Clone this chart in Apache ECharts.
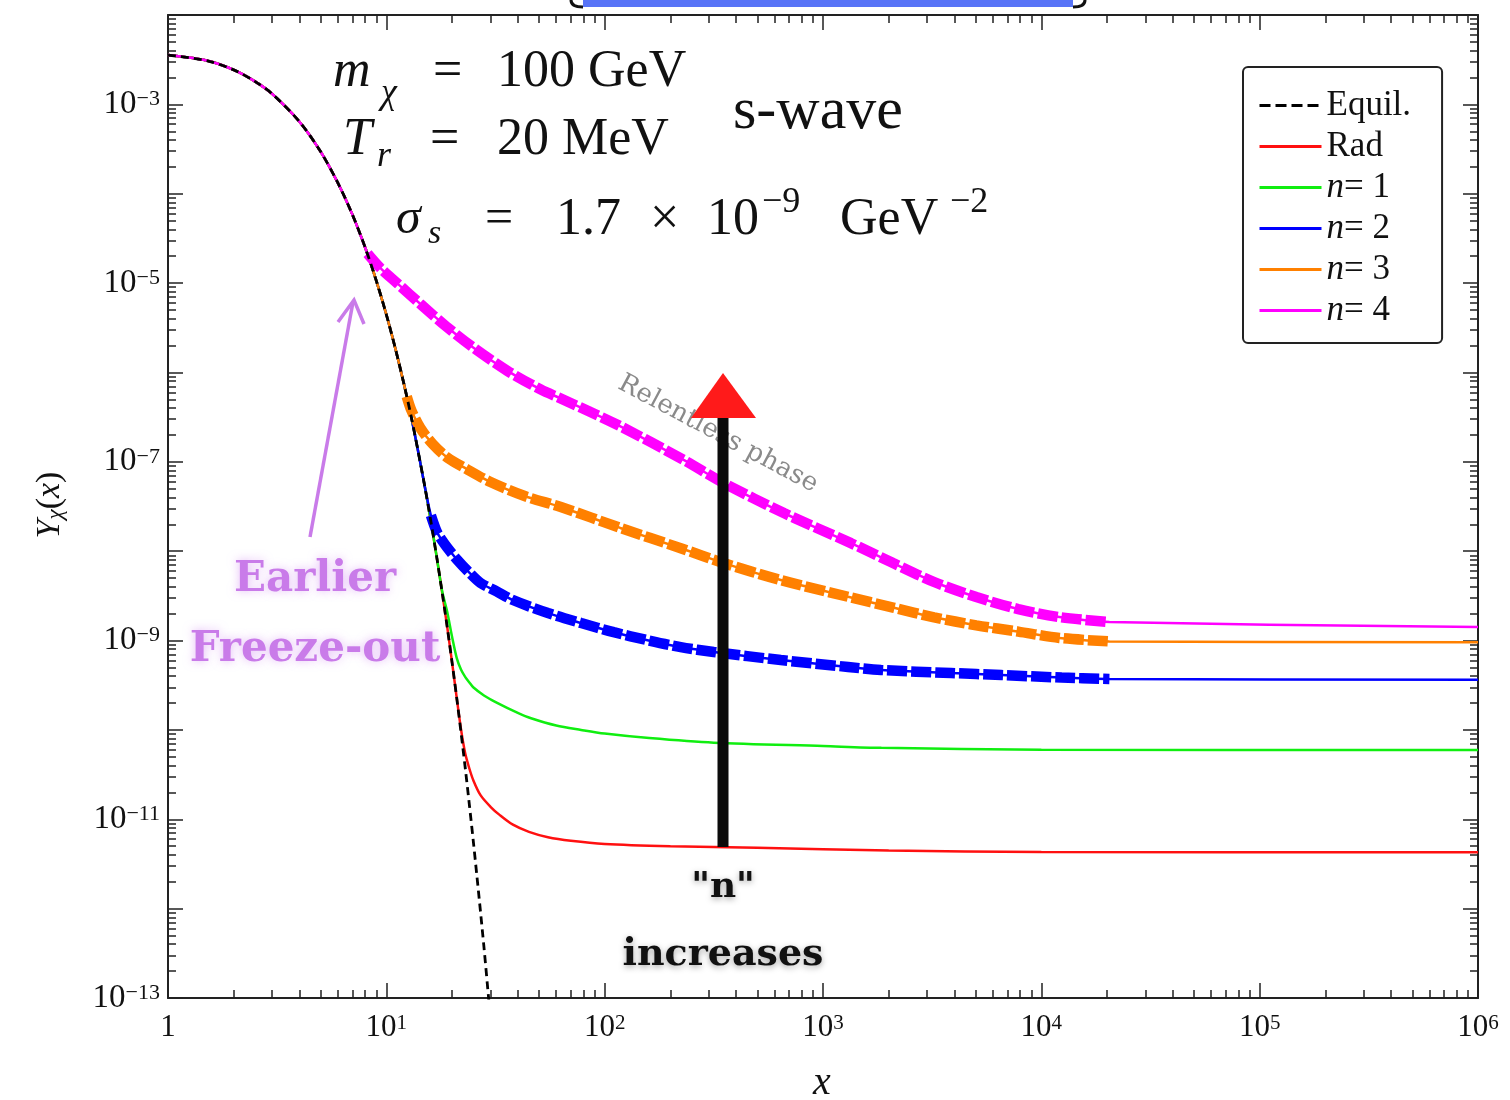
<!DOCTYPE html>
<html><head><meta charset="utf-8">
<script src="https://cdn.jsdelivr.net/npm/echarts@6/dist/echarts.min.js"></script>
<style>html,body{margin:0;padding:0;background:#fff}#c{width:1510px;height:1100px}</style>
</head><body><div id="c"></div>
<script>
// ---------- data ----------
const eqX = [1,1.5,2,2.5,3,4,5,6,7,8,9,10,11,12,13,14,15,16,17,18,19,20,21,22,23,24,25,26,27,28,29,30];
const eqY = [3.56e-3,3.09e-3,2.43e-3,1.81e-3,1.31e-3,6.4e-4,2.96e-4,1.32e-4,5.8e-5,2.5e-5,1.06e-5,4.45e-6,1.85e-6,7.7e-7,3.2e-7,1.29e-7,5.3e-8,2.15e-8,8.7e-9,3.5e-9,1.42e-9,5.7e-10,2.3e-10,9.2e-11,3.7e-11,1.46e-11,5.8e-12,2.3e-12,9.2e-13,3.7e-13,1.45e-13,5.8e-14];

const radX = [22,23,24,25,27,30,33,38,45,55,70,100,200,500,2000,1e4,1e6];
const radY = [1.0e-10,5.4e-11,3.7e-11,2.75e-11,1.86e-11,1.38e-11,1.12e-11,8.7e-12,7.24e-12,6.3e-12,5.75e-12,5.3e-12,5.0e-12,4.8e-12,4.47e-12,4.3e-12,4.27e-12];

const n1X = [18,19,20,21,22,23,24,25,28,32,40,46,60,78,100,160,316,1000,1850,1e4,1e6];
const n1Y = [3.6e-9,2.1e-9,1.1e-9,6.4e-10,4.7e-10,3.9e-10,3.4e-10,3.0e-10,2.43e-10,2.02e-10,1.55e-10,1.35e-10,1.12e-10,1.0e-10,9.1e-11,8.1e-11,7.2e-11,6.6e-11,6.3e-11,6.0e-11,5.96e-11];

const n2X = [16,17,18,19,21,24,27,32,38,55,78,110,157,223,316,641,1303,1845,3866,6555,12400,20500,1e6];
const n2Y = [2.51e-8,1.66e-8,1.32e-8,1.10e-8,8.13e-9,5.75e-9,4.41e-9,3.55e-9,2.84e-9,2.03e-9,1.57e-9,1.24e-9,1.01e-9,8.45e-10,7.45e-10,6.05e-10,5.06e-10,4.68e-10,4.33e-10,4.11e-10,3.85e-10,3.72e-10,3.63e-10];

const n3X = [12.4,13,14.3,16.3,19,23.3,30,43,63,118,223,351,641,1303,2094,3228,5036,7838,12100,20500,1e6];
const n3Y = [5.37e-7,3.8e-7,2.4e-7,1.58e-7,1.12e-7,8.32e-8,5.94e-8,4.14e-8,3.12e-8,1.82e-8,1.08e-8,7.36e-9,4.75e-9,3.09e-9,2.34e-9,1.82e-9,1.48e-9,1.26e-9,1.07e-9,9.77e-10,9.6e-10];

const n4X = [8.2,9.38,11.2,14.5,18.7,24.8,35.9,51.4,62.2,115,230,351,662,1343,2094,3228,5036,7838,12100,20500,1e6];
const n4Y = [2.14e-5,1.48e-5,1.0e-5,5.69e-6,3.31e-6,1.93e-6,1.04e-6,6.37e-7,5.18e-7,2.58e-7,1.05e-7,5.79e-8,2.67e-8,1.23e-8,7.36e-9,4.52e-9,3.07e-9,2.25e-9,1.83e-9,1.61e-9,1.42e-9];

const dashEndX = 20500;   // thick dashed part ends here

const legendNames = ['Equil.','Rad','n= 1','n= 2','n= 3','n= 4'];
const xTickExps = [0,1,2,3,4,5,6];
const yTickExps = [-13,-12,-11,-10,-9,-8,-7,-6,-5,-4,-3,-2];
const yLabelExps = [-13,-11,-9,-7,-5,-3];

// ---------- build tables ----------
const zip = (xs, ys) => xs.map((x, i) => [x, ys[i]]);
const eqPts = zip(eqX, eqY);
const withEq = (xs, ys) => eqPts.filter(p => p[0] < xs[0]).concat(zip(xs, ys));
const dashPart = (xs, ys) => zip(xs, ys).filter(p => p[0] <= dashEndX);

const majorX = xTickExps.map(e => Math.pow(10, e));
const minorX = [];
xTickExps.slice(0, -1).forEach(e => { for (let m = 2; m <= 9; m++) minorX.push(m * Math.pow(10, e)); });
const majorY = yTickExps.map(e => Math.pow(10, e));
const minorY = [];
yTickExps.slice(0, -1).forEach(e => { for (let m = 2; m <= 9; m++) minorY.push(m * Math.pow(10, e)); });
const labelY = yLabelExps.map(e => Math.pow(10, e));

const SERIF = '"Liberation Serif", "DejaVu Serif", serif';
const SLAB = '"DejaVu Serif", serif';
const INK = '#111';

const richX = {
  b: { fontFamily: SERIF, fontSize: 31, color: INK, lineHeight: 30 },
  s: { fontFamily: SERIF, fontSize: 21, color: INK, lineHeight: 16, verticalAlign: 'top' }
};
const richY = {
  b: { fontFamily: SERIF, fontSize: 33, color: INK, lineHeight: 32 },
  s: { fontFamily: SERIF, fontSize: 22, color: INK, lineHeight: 17, verticalAlign: 'top' }
};
const expOf = v => Math.round(Math.log10(v));
const fmtPow = v => {
  const e = expOf(v);
  if (e === 0) return '{b|1}';
  return '{b|10}{s|' + (e < 0 ? '\u2212' + (-e) : e) + '}';
};

const frame = { show: true, onZero: false, lineStyle: { color: '#222', width: 2 } };
const tickStyle = { color: '#222', width: 1.5 };
const base = { type: 'log', logBase: 10, splitLine: { show: false }, minorTick: { show: false }, minorSplitLine: { show: false }, silent: true };

function xAx(pos, ticks, len, line, labels) {
  return Object.assign({}, base, {
    position: pos, min: 1, max: 1e6,
    axisLine: line ? frame : { show: false },
    axisTick: { show: true, inside: true, length: len, customValues: ticks, lineStyle: tickStyle },
    axisLabel: labels ? { show: true, customValues: majorX, formatter: fmtPow, margin: 15, rich: richX } : { show: false }
  });
}
function yAx(pos, ticks, len, line, labels) {
  return Object.assign({}, base, {
    position: pos, min: 1e-13, max: 1e-2,
    axisLine: line ? frame : { show: false },
    axisTick: { show: true, inside: true, length: len, customValues: ticks, lineStyle: tickStyle },
    axisLabel: labels ? { show: true, customValues: labelY, formatter: fmtPow, margin: 8, rich: richY } : { show: false }
  });
}

const thin = (name, color, data) => ({
  name, type: 'line', data, xAxisIndex: 0, yAxisIndex: 0, symbol: 'none', smooth: 0.3, z: 2,
  lineStyle: { color, width: 2.5 }, itemStyle: { color }
});
const thick = (name, color, data) => ({
  name, type: 'line', data, xAxisIndex: 0, yAxisIndex: 0, symbol: 'none', smooth: 0.3, z: 3,
  lineStyle: { color, width: 10.5, type: [20, 4], cap: 'butt' }, itemStyle: { color }
});

const C = { rad: '#ff1010', n1: '#10ee10', n2: '#0000ff', n3: '#ff8000', n4: '#ff00ff' };

const series = [
  thin('Rad', C.rad, withEq(radX, radY)),
  thin('n= 1', C.n1, withEq(n1X, n1Y)),
  thin('n= 2', C.n2, withEq(n2X, n2Y)),
  thin('n= 3', C.n3, withEq(n3X, n3Y)),
  thin('n= 4', C.n4, withEq(n4X, n4Y)),
  thick('n2 thick', C.n2, dashPart(n2X, n2Y)),
  thick('n3 thick', C.n3, dashPart(n3X, n3Y)),
  thick('n4 thick', C.n4, dashPart(n4X, n4Y)),
  { name: 'Equil.', type: 'line', data: eqPts, xAxisIndex: 0, yAxisIndex: 0, symbol: 'none', smooth: 0.3, z: 4,
    lineStyle: { color: '#000', width: 2.8, type: [8, 5] }, itemStyle: { color: '#000' } }
];

function T(x, y, text, font, extra) {
  return { type: 'text', x, y, z: 50, silent: true,
    style: Object.assign({ text, font, fill: INK, align: 'left', verticalAlign: 'middle' }, extra || {}) };
}
const purple = '#c97be9';
const glow = { textShadowColor: 'rgba(205,130,240,0.55)', textShadowBlur: 10 };
const dark = { textShadowColor: 'rgba(0,0,0,0.35)', textShadowBlur: 6, textShadowOffsetY: 2 };

const graphics = [
  // cropped title bar at the very top
  { type: 'rect', z: 60, shape: { x: 583, y: 0, width: 490, height: 7 }, style: { fill: '#5874f7' } },
  { type: 'bezierCurve', z: 60, shape: { x1: 583, y1: 7, cpx1: 571, cpy1: 7, x2: 571, y2: 0 }, style: { stroke: '#111', lineWidth: 3, fill: null } },
  { type: 'bezierCurve', z: 60, shape: { x1: 1073, y1: 7, cpx1: 1085, cpy1: 7, x2: 1085, y2: 0 }, style: { stroke: '#111', lineWidth: 3, fill: null } },

  // parameter annotations
  T(333, 72, 'm', 'italic 52px ' + SERIF),
  T(381, 94, '\u03c7', 'italic 36px ' + SERIF),
  T(433, 72, '=', '52px ' + SERIF),
  T(497, 72, '100 GeV', '52px ' + SERIF),
  T(343, 140, 'T', 'italic 52px ' + SERIF),
  T(377, 157, 'r', 'italic 36px ' + SERIF),
  T(430, 140, '=', '52px ' + SERIF),
  T(497, 140, '20 MeV', '52px ' + SERIF),
  T(396, 220, '\u03c3', 'italic 50px ' + SERIF),
  T(428, 234, 's', 'italic 34px ' + SERIF),
  T(485, 220, '=', '50px ' + SERIF),
  T(556, 220, '1.7', '52px ' + SERIF),
  T(650, 220, '\u00d7', '52px ' + SERIF),
  T(707, 220, '10', '52px ' + SERIF),
  T(762, 203, '\u22129', '36px ' + SERIF),
  T(840, 220, 'GeV', '52px ' + SERIF),
  T(950, 203, '\u22122', '36px ' + SERIF),
  T(733, 112, 's-wave', '60px ' + SERIF),

  // relentless phase label
  { type: 'text', x: 718, y: 434, rotation: -0.49, z: 40, silent: true,
    style: { text: 'Relentless phase', font: '26px ' + SLAB, fill: '#8a8a8a', align: 'center', verticalAlign: 'middle' } },

  // "n increases" arrow
  { type: 'line', z: 55, shape: { x1: 723, y1: 847, x2: 723, y2: 412 }, style: { stroke: '#0b0b0b', lineWidth: 11 } },
  { type: 'polygon', z: 56, shape: { points: [[723, 373], [691, 418], [756, 418]] }, style: { fill: '#ff1a1a' } },
  T(723, 888, '"n"', 'bold 36px ' + SLAB, Object.assign({ align: 'center' }, dark)),
  T(723, 955, 'increases', 'bold 38px ' + SLAB, Object.assign({ align: 'center' }, dark)),

  // earlier freeze-out
  { type: 'polyline', z: 55, shape: { points: [[310, 537], [353, 302]] }, style: { stroke: purple, lineWidth: 3.5 } },
  { type: 'polyline', z: 55, shape: { points: [[338, 322], [354, 300], [364, 324]] }, style: { stroke: purple, lineWidth: 3.5, fill: null } },
  T(315, 580, 'Earlier', 'bold 42px ' + SLAB, Object.assign({ align: 'center', fill: purple }, glow)),
  T(315, 650, 'Freeze-out', 'bold 42px ' + SLAB, Object.assign({ align: 'center', fill: purple }, glow)),

  // axis names
  { type: 'text', x: 50, y: 505, rotation: Math.PI / 2, z: 50, silent: true,
    style: { text: '{i|Y}{sub|\u03c7}{n|(}{i|x}{n|)}', align: 'center', verticalAlign: 'middle',
      rich: {
        i: { fontFamily: SERIF, fontStyle: 'italic', fontSize: 34, fill: INK, color: INK, lineHeight: 34 },
        n: { fontFamily: SERIF, fontSize: 34, fill: INK, color: INK, lineHeight: 34 },
        sub: { fontFamily: SERIF, fontStyle: 'italic', fontSize: 23, fill: INK, color: INK, lineHeight: 16, verticalAlign: 'bottom' }
      } } },
  T(822, 1083, 'x', 'italic 40px ' + SERIF, { align: 'center' })
];

const option = {
  animation: false,
  backgroundColor: '#fff',
  grid: { left: 168, right: 32, top: 15, bottom: 102, containLabel: false },
  xAxis: [
    xAx('bottom', majorX, 15, true, true),
    xAx('bottom', minorX, 8, false, false),
    xAx('top', majorX, 15, true, false),
    xAx('top', minorX, 8, false, false)
  ],
  yAxis: [
    yAx('left', majorY, 15, true, true),
    yAx('left', minorY, 8, false, false),
    yAx('right', majorY, 15, true, false),
    yAx('right', minorY, 8, false, false)
  ],
  legend: {
    data: legendNames.map(n => n === 'Equil.' ? { name: n, lineStyle: { type: [11, 5] } } : { name: n }),
    orient: 'vertical', left: 1243, top: 67,
    padding: [21, 31, 15, 15], itemWidth: 62, itemHeight: 20, itemGap: 6,
    borderColor: '#222', borderWidth: 2, borderRadius: 5, backgroundColor: '#fff',
    itemStyle: { opacity: 0 },
    lineStyle: { width: 3 },
    selectedMode: false,
    formatter: n => n.indexOf('n=') === 0 ? '{i|n}{t|' + n.slice(1) + '}' : n,
    textStyle: { fontFamily: SERIF, fontSize: 35, color: INK,
      rich: { i: { fontFamily: SERIF, fontStyle: 'italic', fontSize: 35, color: INK },
              t: { fontFamily: SERIF, fontSize: 35, color: INK } } }
  },
  series,
  graphic: graphics
};

const chart = echarts.init(document.getElementById('c'), null, { renderer: 'canvas' });
chart.setOption(option);
</script>
</body></html>
